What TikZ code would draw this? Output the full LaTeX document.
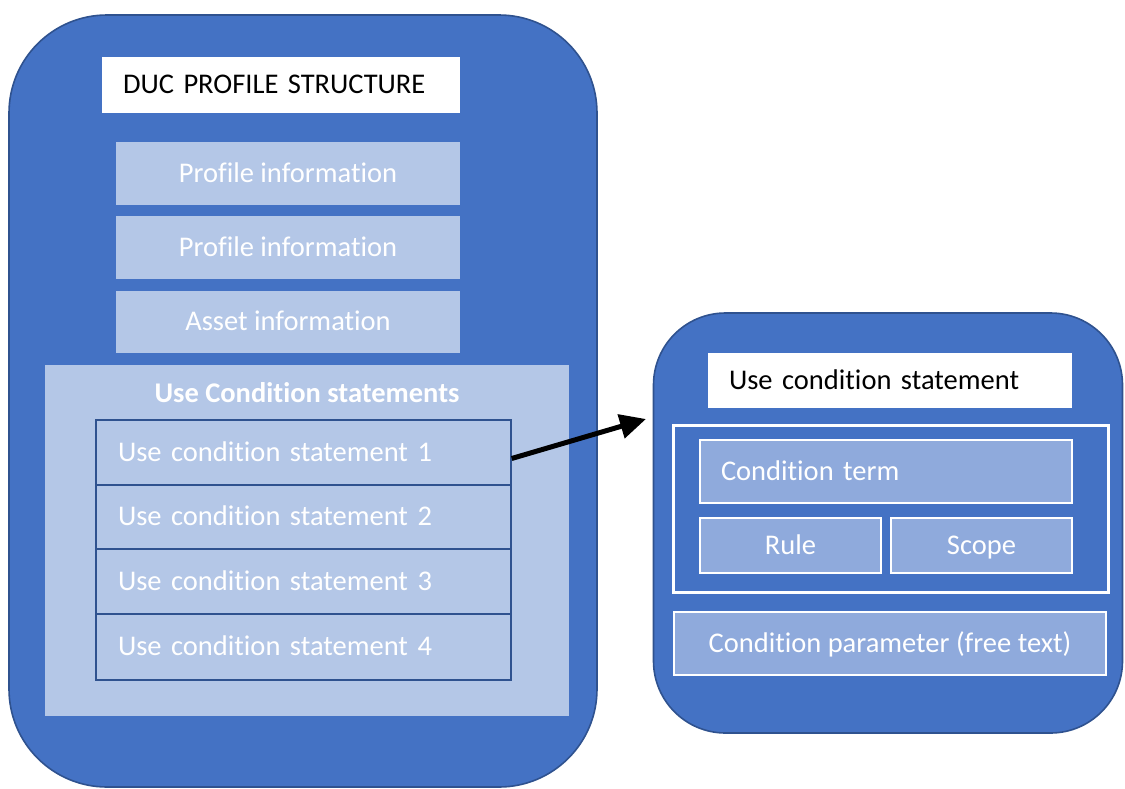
\documentclass[tikz,border=0pt]{standalone}
\usepackage{fontspec}
\setmainfont{Carlito}[Ligatures=NoCommon]
\usetikzlibrary{arrows.meta}
\definecolor{mainblue}{HTML}{4472C4}
\definecolor{edgeblue}{HTML}{2F528F}
\definecolor{lightblue}{HTML}{B4C7E7}
\definecolor{midblue}{HTML}{8FAADC}
\tikzset{
  txt/.style={font=\fontsize{28.5}{34}\selectfont, text height=21pt, text depth=4pt},
  bigbox/.style={draw=edgeblue, line width=1.6pt, fill=mainblue, inner sep=0pt},
  titlebox/.style={txt, fill=white, inner sep=0pt, text=black},
  infobox/.style={txt, fill=lightblue, inner sep=0pt, text=white},
  stmtbox/.style={txt, draw=edgeblue, line width=1.4pt, fill=lightblue, inner sep=0pt, text=white},
  termbox/.style={txt, draw=white, line width=1.4pt, fill=midblue, inner sep=0pt, text=white},
}
\begin{document}
\begin{tikzpicture}[x=1pt,y=-1pt]
\useasboundingbox (0,0) rectangle (1125,788);
% left big box
\node[bigbox, rounded corners=98pt, minimum width=588pt, minimum height=772pt] (left) at (303,401) {};
\node[titlebox, minimum width=358pt, minimum height=56pt, text width=316pt, align=left] (ttl) at (281,85) {DUC PROFILE STRUCTURE};
\node[infobox, minimum width=344pt, minimum height=63pt] (p1) at (288,173.5) {Profile information};
\node[infobox, minimum width=344pt, minimum height=63pt] (p2) at (288,247.5) {Profile information};
\node[infobox, minimum width=344pt, minimum height=62pt] (ai) at (288,322) {Asset information};
\node[fill=lightblue, inner sep=0pt, minimum width=524pt, minimum height=351pt] (ucs) at (307,540.5) {};
\node[txt, text=white, font=\bfseries\fontsize{28.5}{34}\selectfont, inner sep=0pt] (ucst) at (307,394) {Use Condition statements};
\node[stmtbox, minimum width=415pt, minimum height=65pt, text width=371pt, align=left] (s1) at (303.5,452.5) {Use condition statement 1};
\node[stmtbox, minimum width=415pt, minimum height=64pt, text width=371pt, align=left] (s2) at (303.5,517) {Use condition statement 2};
\node[stmtbox, minimum width=415pt, minimum height=65pt, text width=371pt, align=left] (s3) at (303.5,581.5) {Use condition statement 3};
\node[stmtbox, minimum width=415pt, minimum height=66pt, text width=371pt, align=left] (s4) at (303.5,647) {Use condition statement 4};
% right big box
\node[bigbox, rounded corners=72pt, minimum width=469pt, minimum height=420pt] (right) at (888,523) {};
\node[titlebox, minimum width=364pt, minimum height=55pt, text width=322pt, align=left] (rttl) at (890,380.5) {Use condition statement};
\node[draw=white, line width=3pt, fill=mainblue, inner sep=0pt, minimum width=435pt, minimum height=167pt] (grp) at (890.5,508.5) {};
\node[termbox, minimum width=372pt, minimum height=63pt, text width=330pt, align=left] (term) at (886,471.5) {Condition term};
\node[termbox, minimum width=181pt, minimum height=55pt] (rule) at (790.5,545.5) {Rule};
\node[termbox, minimum width=181pt, minimum height=55pt] (scope) at (981.5,545.5) {Scope};
\node[termbox, minimum width=432pt, minimum height=63pt] (param) at (890,643.5) {Condition parameter (free text)};
% arrow
\coordinate (tip) at (646,419);
\draw[line width=5pt, -{Triangle[length=26pt,width=24pt]}] ([yshift=-6pt]s1.east) -- (tip);
\end{tikzpicture}
\end{document}
